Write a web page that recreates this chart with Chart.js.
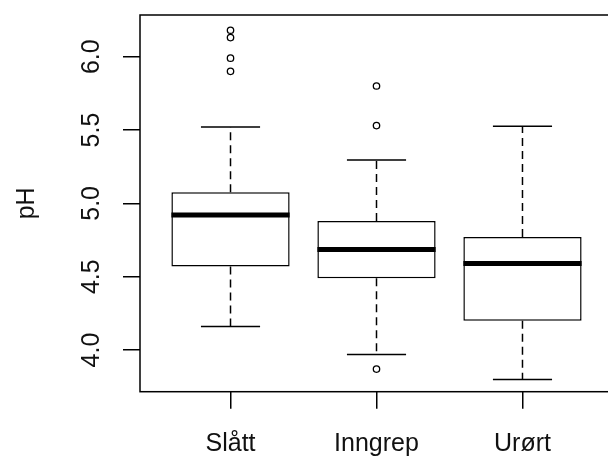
<!DOCTYPE html>
<html>
<head>
<meta charset="utf-8">
<script src="https://cdn.jsdelivr.net/npm/chart.js@4"></script>
<style>
html, body { margin: 0; padding: 0; overflow: hidden; background: #fff; }
#wrap { width: 620px; height: 459px; }
</style>
</head>
<body>
<div id="wrap"><canvas id="phChart"></canvas></div>
<script>
// pH by site type
const categories = ['Slått', 'Inngrep', 'Urørt'];
const whiskerLow = [4.16, 3.97, 3.80];
const quartile1 = [4.57, 4.49, 4.20];
const medians = [4.92, 4.685, 4.59];
const quartile3 = [5.075, 4.88, 4.77];
const whiskerHigh = [5.52, 5.295, 5.525];
const outliers = [[5.90, 5.99, 6.13, 6.18], [5.53, 5.80, 3.87], []];
const yTicks = [4.0, 4.5, 5.0, 5.5, 6.0];
const yRange = [3.716, 6.284];
const xRange = [0.38, 3.62];

const BOX = 0.81;      // box width in x units
const half = BOX / 2;
const cap = BOX / 4;
const font = { family: "'Liberation Sans', Arial, sans-serif", size: 25 };

// several two-point segments in one line dataset, broken by null points
function segments(fn) {
    const pts = [];
    categories.forEach((c, i) => {
        fn(i + 1, i).forEach(s => {
            pts.push({x: s[0], y: s[1]}, {x: s[2], y: s[3]}, {x: s[2], y: null});
        });
    });
    return pts;
}

const boxData = categories.map((c, i) => ({x: i + 1, y: [quartile1[i], quartile3[i]]}));
const whiskerData = segments((x, i) => [
    [x, quartile3[i], x, whiskerHigh[i]],
    [x, quartile1[i], x, whiskerLow[i]]
]);
const capData = segments((x, i) => [
    [x - cap, whiskerHigh[i], x + cap, whiskerHigh[i]],
    [x - cap, whiskerLow[i], x + cap, whiskerLow[i]]
]);
const medianData = segments((x, i) => [[x - half, medians[i], x + half, medians[i]]]);
const outlierData = outliers.flatMap((list, i) => list.map(v => ({x: i + 1, y: v})));

const frame = {
    id: 'frame',
    afterDatasetsDraw(chart) {
        const {ctx, chartArea: a} = chart;
        ctx.save();
        ctx.strokeStyle = '#000';
        ctx.lineWidth = 1.5;
        ctx.strokeRect(a.left, a.top, a.right - a.left, a.bottom - a.top);
        ctx.restore();
    }
};

const lineBase = {type: 'line', borderColor: '#000', pointRadius: 0, fill: false, borderCapStyle: 'butt'};

new Chart(document.getElementById('phChart'), {
    type: 'bar',
    data: {
        datasets: [
            {
                type: 'bar',
                data: boxData,
                backgroundColor: '#fff',
                borderColor: '#000',
                borderWidth: 1.5,
                borderSkipped: false,
                barPercentage: BOX,
                categoryPercentage: 1,
                order: 3
            },
            Object.assign({}, lineBase, {data: whiskerData, borderWidth: 1.5, borderDash: [8, 5], order: 2}),
            Object.assign({}, lineBase, {data: capData, borderWidth: 1.5, order: 2}),
            Object.assign({}, lineBase, {data: medianData, borderWidth: 5, order: 1}),
            {
                type: 'scatter',
                data: outlierData,
                pointRadius: 3.2,
                pointBorderWidth: 1.3,
                pointBorderColor: '#000',
                pointBackgroundColor: 'rgba(0,0,0,0)',
                order: 0
            }
        ]
    },
    options: {
        responsive: true,
        maintainAspectRatio: false,
        animation: false,
        layout: {padding: {top: 15, right: 7, bottom: 0, left: 0}},
        plugins: {legend: {display: false}, tooltip: {enabled: false}},
        scales: {
            x: {
                type: 'linear',
                min: xRange[0],
                max: xRange[1],
                offset: false,
                afterBuildTicks: s => { s.ticks = categories.map((c, i) => ({value: i + 1})); },
                afterFit: s => { s.height = 67.3; s.paddingLeft = 0; s.paddingRight = 0; },
                border: {display: false},
                grid: {offset: false, drawOnChartArea: false, tickLength: 17, color: '#000', tickColor: '#000', lineWidth: 1.5},
                ticks: {
                    color: '#111', font: font, padding: 20, maxRotation: 0, autoSkip: false,
                    callback: v => categories[Math.round(v) - 1]
                }
            },
            y: {
                min: yRange[0],
                max: yRange[1],
                afterBuildTicks: s => { s.ticks = yTicks.map(v => ({value: v})); },
                afterFit: s => { s.width = 140; s.paddingTop = 0; s.paddingBottom = 0; },
                border: {display: false},
                grid: {drawOnChartArea: false, tickLength: 17, color: '#000', tickColor: '#000', lineWidth: 1.5},
                ticks: {
                    color: '#111', font: font, padding: 14, minRotation: 90, maxRotation: 90, crossAlign: 'center',
                    callback: v => v.toFixed(1)
                },
                title: {display: true, text: 'pH', color: '#111', font: font, padding: {top: 12}}
            }
        }
    },
    plugins: [frame]
});
</script>
</body>
</html>
